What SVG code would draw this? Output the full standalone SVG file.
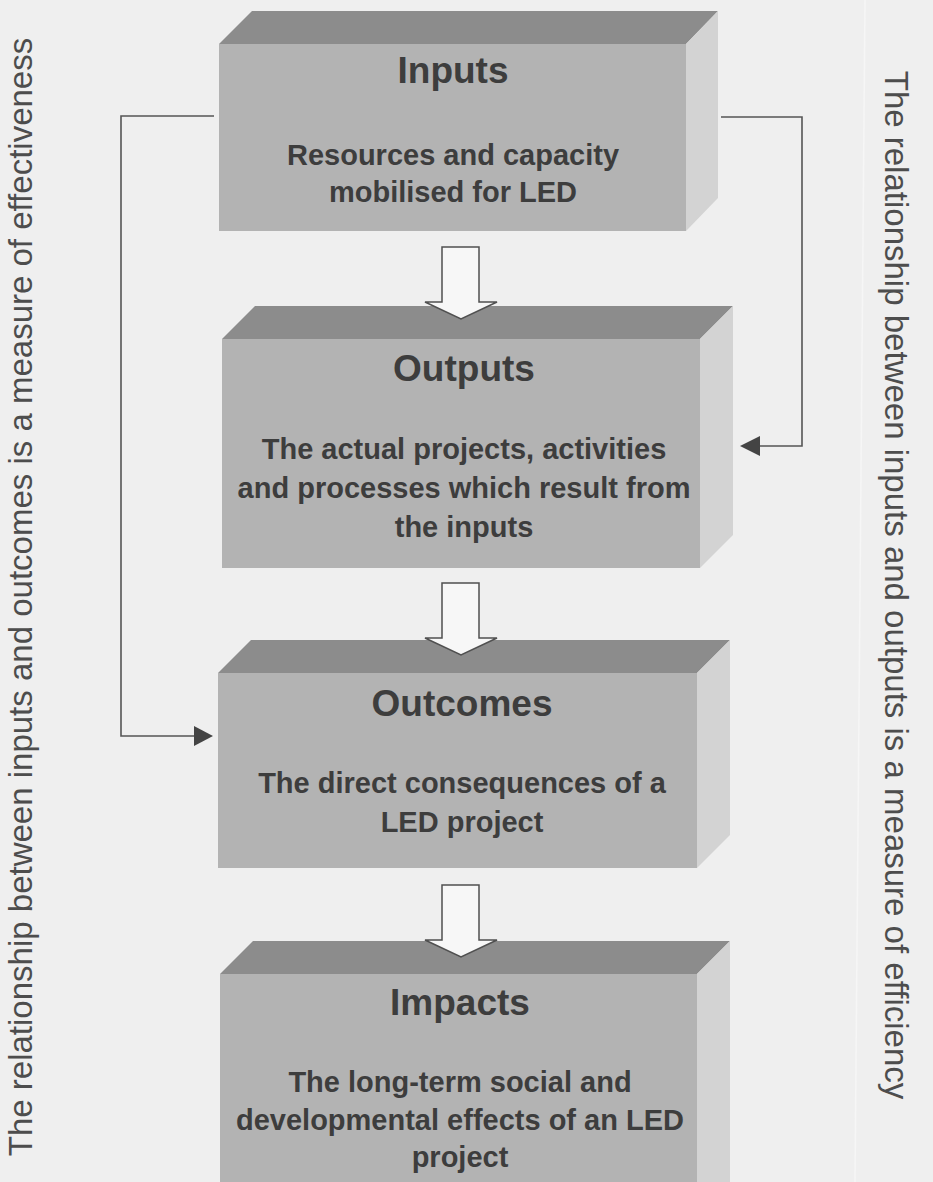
<svg xmlns="http://www.w3.org/2000/svg" width="933" height="1182" viewBox="0 0 933 1182">
  <style>
    .front { fill: #b3b3b3; }
    .top { fill: #8c8c8c; }
    .side { fill: #d3d3d3; }
    .title { font-family: "Liberation Sans", Arial, sans-serif; font-weight: bold; font-size: 37px; fill: #3d3d3d; text-anchor: middle; }
    .body { font-family: "Liberation Sans", Arial, sans-serif; font-weight: bold; font-size: 29px; fill: #3d3d3d; text-anchor: middle; }
    .note { font-family: "Liberation Sans", Arial, sans-serif; font-size: 33px; fill: #4d4d4d; text-anchor: middle; }
    .link { fill: none; stroke: #555555; stroke-width: 1.6; }
    .head { fill: #444444; }
    .flow { fill: #f7f7f7; stroke: #505050; stroke-width: 1.5; stroke-linejoin: miter; }
  </style>

  <rect width="933" height="1182" fill="#efefef"/>
  <!-- faint crease line near the right margin -->
  <line x1="865" y1="0" x2="855" y2="1182" stroke="#f6f6f6" stroke-width="1.5"/>

  <!-- side captions -->
  <text class="note" transform="translate(32,597) rotate(-90)">The relationship between inputs and outcomes is a measure of effectiveness</text>
  <text class="note" transform="translate(885,585) rotate(90)">The relationship between inputs and outputs is a measure of efficiency</text>

  <!-- Inputs -->
  <g id="inputs">
    <polygon class="top" points="219,44 252,11 718,11 686,44"/>
    <polygon class="side" points="686,44 718,11 718,198 686,231"/>
    <rect class="front" x="219" y="44" width="467" height="187"/>
    <text class="title" x="453" y="83">Inputs</text>
    <text class="body" x="453" y="165">Resources and capacity</text>
    <text class="body" x="453" y="202">mobilised for LED</text>
  </g>

  <!-- Outputs -->
  <g id="outputs">
    <polygon class="top" points="222,339 255,306 733,306 700,339"/>
    <polygon class="side" points="700,339 733,306 733,535 700,568"/>
    <rect class="front" x="222" y="339" width="478" height="229"/>
    <text class="title" x="464" y="381">Outputs</text>
    <text class="body" x="464" y="459">The actual projects, activities</text>
    <text class="body" x="464" y="498">and processes which result from</text>
    <text class="body" x="464" y="537">the inputs</text>
  </g>

  <!-- Outcomes -->
  <g id="outcomes">
    <polygon class="top" points="218,673 251,640 730,640 697,673"/>
    <polygon class="side" points="697,673 730,640 730,835 697,868"/>
    <rect class="front" x="218" y="673" width="479" height="195"/>
    <text class="title" x="462" y="716">Outcomes</text>
    <text class="body" x="462" y="793">The direct consequences of a</text>
    <text class="body" x="462" y="832">LED project</text>
  </g>

  <!-- Impacts -->
  <g id="impacts">
    <polygon class="top" points="220,974 253,941 730,941 697,974"/>
    <polygon class="side" points="697,974 730,941 730,1182 697,1182"/>
    <rect class="front" x="220" y="974" width="477" height="208"/>
    <text class="title" x="460" y="1015">Impacts</text>
    <text class="body" x="460" y="1092">The long-term social and</text>
    <text class="body" x="460" y="1130">developmental effects of an LED</text>
    <text class="body" x="460" y="1167">project</text>
  </g>

  <!-- connectors -->
  <g id="connectors">
    <!-- block arrows between stages -->
    <polygon class="flow" points="442,247 479,247 479,302 497,302 461,319 425,302 442,302"/>
    <polygon class="flow" points="442,583 479,583 479,638 497,638 461,655 425,638 442,638"/>
    <polygon class="flow" points="442,885 479,885 479,940 497,940 461,957 425,940 442,940"/>
    <!-- inputs to outcomes (left) -->
    <polyline class="link" points="214,116 121,116 121,736 196,736"/>
    <polygon class="head" points="213,736 194,726 194,746"/>
    <!-- inputs to outputs (right) -->
    <polyline class="link" points="721,117 802,117 802,446 758,446"/>
    <polygon class="head" points="740,446 760,436 760,456"/>
  </g>
</svg>
